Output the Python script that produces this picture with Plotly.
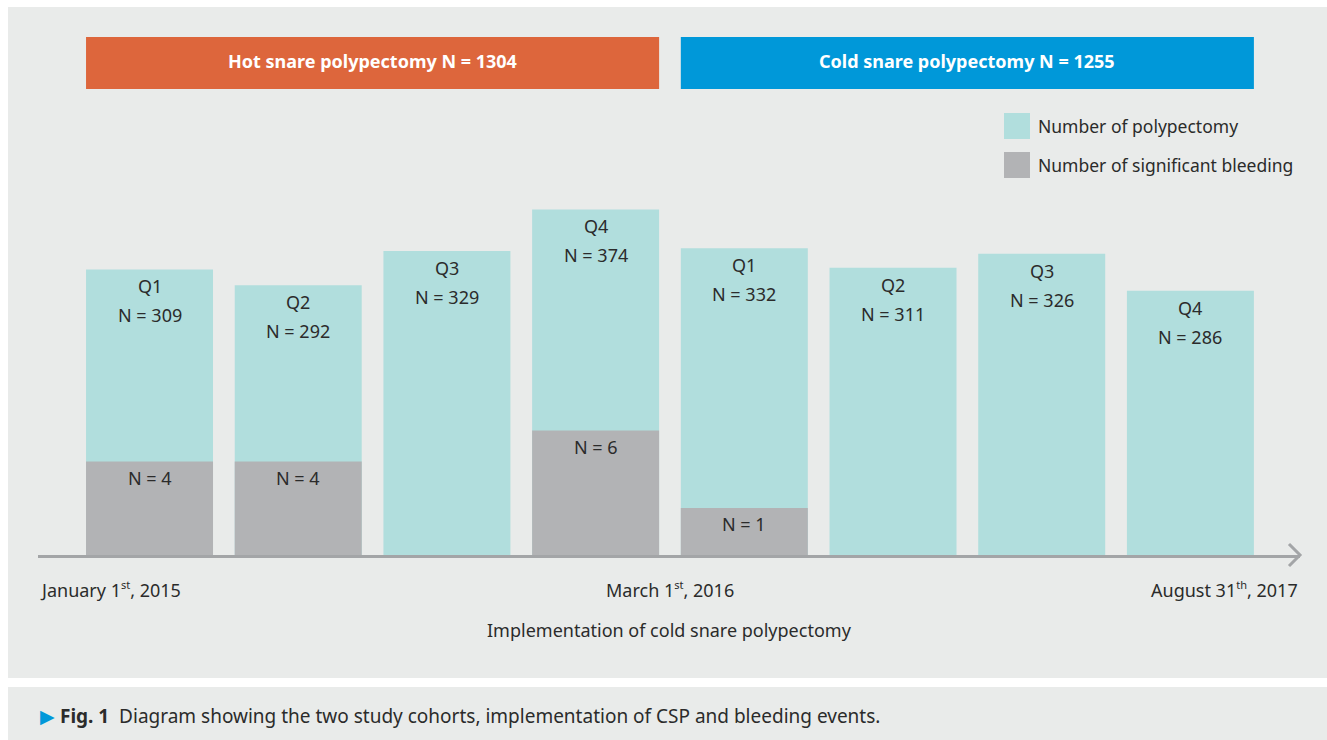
import plotly.graph_objects as go

# ---------------- data ----------------
quarters = ["Q1", "Q2", "Q3", "Q4", "Q1", "Q2", "Q3", "Q4"]
polypectomy = [309, 292, 329, 374, 332, 311, 326, 286]
bleeding = [4, 4, None, 6, 1, None, None, None]
cohort_labels = ["Hot snare polypectomy N = 1304", "Cold snare polypectomy N = 1255"]
cohort_ranges = [(0, 3), (4, 7)]
date_labels = ["January 1<sup><span style='font-size:11px'>st</span></sup>, 2015",
               "March 1<sup><span style='font-size:11px'>st</span></sup>, 2016",
               "August 31<sup><span style='font-size:11px'>th</span></sup>, 2017"]
legend_labels = ["Number of polypectomy", "Number of significant bleeding"]
axis_title = "Implementation of cold snare polypectomy"
caption_label = "Fig.\u00a01"
caption_text = "Diagram showing the two study cohorts, implementation of CSP and bleeding events."

# ---------------- style ----------------
W, H = 1327, 740
PL, PR, PT, PB = 38, 1300, 8, 555          # plot area in page pixels
L, T = PL, PT
R, B = W - PR, H - PB
PW, PH = PR - PL, PB - PT
FONT = "Noto Sans"
TXT = "#2b2b2b"
PANEL = "#e9ebea"
TEAL = "#b1dedd"
GREY = "#b2b3b5"
ORANGE = "#dd663c"
BLUE = "#0098d9"
AXIS = "#a3a5a7"
BAR_W = 0.854
X_RANGE = [-0.75, 7.737]
Y_MAX = PH / 0.924
BLEED_MIN = -31.5 / 15.5
BLEED_MAX = BLEED_MIN + PH / 15.5
FS = 18


def px_x(px):
    return (px - PL) / PW


def px_y(py):
    return (PB - py) / PH


x = list(range(len(quarters)))

fig = go.Figure()
fig.add_trace(go.Bar(x=x, y=polypectomy, width=BAR_W, marker=dict(color=TEAL, line=dict(width=0)),
                     name=legend_labels[0], showlegend=False, hoverinfo="skip"))
fig.add_trace(go.Bar(x=x, y=[None if b is None else b - BLEED_MIN for b in bleeding],
                     base=BLEED_MIN, width=BAR_W, yaxis="y2",
                     marker=dict(color=GREY, line=dict(width=0)),
                     name=legend_labels[1], showlegend=False, hoverinfo="skip"))

shapes = []
annotations = []

# panel backgrounds
shapes.append(dict(type="rect", xref="paper", yref="paper", x0=px_x(8), x1=px_x(W + 5),
                   y0=px_y(678), y1=px_y(7), fillcolor=PANEL, line=dict(width=0), layer="below"))
shapes.append(dict(type="rect", xref="paper", yref="paper", x0=px_x(8), x1=px_x(W + 5),
                   y0=px_y(H + 5), y1=px_y(687), fillcolor=PANEL, line=dict(width=0), layer="below"))

# cohort banners
for (a, b), lab, col in zip(cohort_ranges, cohort_labels, [ORANGE, BLUE]):
    shapes.append(dict(type="rect", xref="x", yref="paper", x0=a - BAR_W / 2, x1=b + BAR_W / 2,
                       y0=px_y(89), y1=px_y(37), fillcolor=col, line=dict(width=0)))
    annotations.append(dict(xref="x", yref="paper", x=(a + b) / 2, y=px_y(61), text=f"<b>{lab}</b>",
                            showarrow=False, xanchor="center", yanchor="middle",
                            font=dict(family=FONT, size=FS, color="white")))

# bar labels
for i, (q, v) in enumerate(zip(quarters, polypectomy)):
    annotations.append(dict(xref="x", yref="y", x=i, y=v, yshift=-17, text=q, showarrow=False,
                            yanchor="middle", font=dict(family=FONT, size=FS, color=TXT)))
    annotations.append(dict(xref="x", yref="y", x=i, y=v, yshift=-46, text=f"N = {v}", showarrow=False,
                            yanchor="middle", font=dict(family=FONT, size=FS, color=TXT)))
for i, b in enumerate(bleeding):
    if b is None:
        continue
    annotations.append(dict(xref="x", yref="y2", x=i, y=b, yshift=-16, text=f"N = {b}", showarrow=False,
                            yanchor="middle", font=dict(family=FONT, size=FS, color=TXT)))

# legend (custom, large swatches)
for lab, col, yc in zip(legend_labels, [TEAL, GREY], [126, 165]):
    shapes.append(dict(type="rect", xref="paper", yref="paper", x0=px_x(1004), x1=px_x(1030),
                       y0=px_y(yc + 13), y1=px_y(yc - 13), fillcolor=col, line=dict(width=0)))
    annotations.append(dict(xref="paper", yref="paper", x=px_x(1036), y=px_y(yc), text=lab,
                            showarrow=False, xanchor="left", yanchor="middle",
                            font=dict(family=FONT, size=17.5, color=TXT)))

# axis arrow head
shapes.append(dict(type="path", xref="paper", yref="paper",
                   path=f"M {px_x(1289)} {px_y(544)} L {px_x(1300)} {px_y(555)} L {px_x(1289)} {px_y(566)}",
                   line=dict(color=AXIS, width=3)))

# date labels
annotations.append(dict(xref="paper", yref="paper", x=0, y=px_y(590), text=date_labels[0], showarrow=False,
                        xanchor="left", yanchor="middle", font=dict(family=FONT, size=FS, color=TXT)))
annotations.append(dict(xref="x", yref="paper", x=3.5, y=px_y(590), text=date_labels[1], showarrow=False,
                        xanchor="center", yanchor="middle", font=dict(family=FONT, size=FS, color=TXT)))
annotations.append(dict(xref="paper", yref="paper", x=1, y=px_y(590), text=date_labels[2], showarrow=False,
                        xanchor="right", yanchor="middle", font=dict(family=FONT, size=FS, color=TXT)))
annotations.append(dict(xref="x", yref="paper", x=3.5, y=px_y(630), text=axis_title, showarrow=False,
                        xanchor="center", yanchor="middle", font=dict(family=FONT, size=FS, color=TXT)))

# caption
annotations.append(dict(xref="paper", yref="paper", x=px_x(38), y=px_y(716),
                        text=f"<span style='color:{BLUE}'>\u25B6</span>\u00a0<b>{caption_label}</b>\u00a0\u00a0{caption_text}",
                        showarrow=False, xanchor="left", yanchor="middle",
                        font=dict(family=FONT, size=19, color=TXT)))

fig.update_layout(
    width=W, height=H,
    margin=dict(l=L, r=R, t=T, b=B, pad=0),
    paper_bgcolor="white", plot_bgcolor="rgba(0,0,0,0)",
    barmode="overlay",
    showlegend=False,
    hovermode=False,
    xaxis=dict(range=X_RANGE, showgrid=False, zeroline=False, showticklabels=False, ticks="",
               showline=True, linecolor=AXIS, linewidth=3, fixedrange=True),
    yaxis=dict(range=[0, Y_MAX], showgrid=False, zeroline=False, showticklabels=False, ticks="",
               showline=False, fixedrange=True),
    yaxis2=dict(range=[BLEED_MIN, BLEED_MAX], overlaying="y", showgrid=False, zeroline=False,
                showticklabels=False, ticks="", showline=False, fixedrange=True),
    shapes=shapes,
    annotations=annotations,
)

fig.write_html("out.html", config={"displayModeBar": False},
               post_script="document.body.style.margin='0';document.body.style.overflow='hidden';")
